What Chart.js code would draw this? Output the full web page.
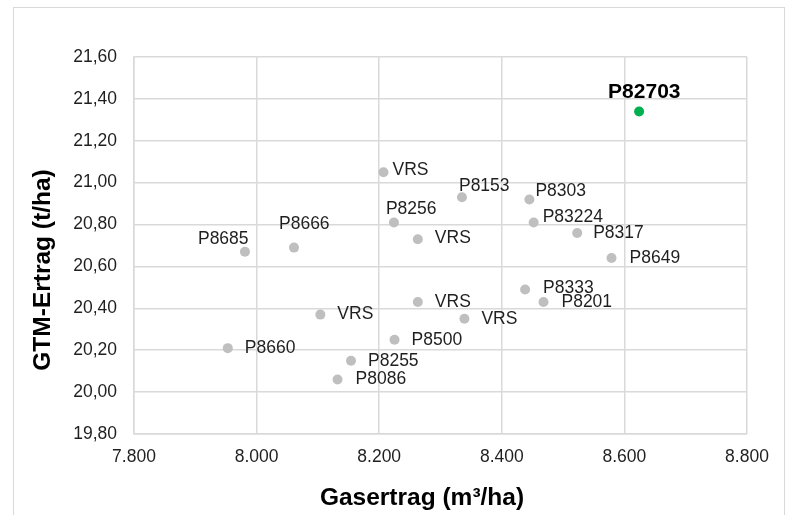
<!DOCTYPE html>
<html>
<head>
<meta charset="utf-8">
<script src="https://cdn.jsdelivr.net/npm/chart.js@4"></script>
<style>
  html, body { margin: 0; padding: 0; background: #fff; }
  #wrap { position: relative; width: 790px; height: 515px; overflow: hidden; }
  #frame { position: absolute; left: 13px; top: 7px; width: 772px; height: 530px; border: 1.5px solid #d9d9d9; box-sizing: border-box; }
  canvas { position: absolute; left: 0; top: 0; }
</style>
</head>
<body>
<div id="wrap">
  <div id="frame"></div>
  <canvas id="myChart" width="790" height="515"></canvas>
</div>
<script>
// Sorten / Stämme
const names = ["P82703", "VRS", "P8153", "P8303", "P8256", "P83224", "VRS", "P8317", "P8649", "P8685",
  "P8666", "P8333", "P8201", "VRS", "VRS", "VRS", "P8500", "P8660", "P8255", "P8086"];
// Gasertrag (m³/ha)
const gasertrag = [8624, 8207, 8335, 8445, 8224, 8452, 8263, 8523, 8579, 7981,
  8061, 8438, 8468, 8263, 8339, 8104, 8225, 7953, 8154, 8132];
// GTM-Ertrag (t/ha)
const gtmErtrag = [21.34, 21.05, 20.93, 20.92, 20.81, 20.81, 20.73, 20.76, 20.64, 20.67,
  20.69, 20.49, 20.43, 20.43, 20.35, 20.37, 20.25, 20.21, 20.15, 20.06];
const highlight = "P82703";

// where each label sits next to its point (text left / middle, px)
const labelShift = [[-31, -19], [9, -2], [-3, -11], [6, -8], [-8, -13], [9, -5], [17, -1], [16, 0], [18, 0], [-47, -13],
  [-15, -23], [18, -1], [18, 0], [17, 0], [17, 0], [17, 0], [17, 0], [17, 0], [17, 0], [18, 0]];

const FONT = "'Liberation Sans', Arial, sans-serif";

const points = gasertrag.map((x, i) => ({ x: x, y: gtmErtrag[i] }));
const colors = names.map(n => n === highlight ? "#00b050" : "#bfbfbf");

const labelPlugin = {
  id: "pointLabels",
  afterDatasetsDraw(chart) {
    const ctx = chart.ctx;
    const meta = chart.getDatasetMeta(0);
    ctx.save();
    ctx.textAlign = "left";
    ctx.textBaseline = "middle";
    meta.data.forEach((el, i) => {
      const bold = names[i] === highlight;
      ctx.font = bold ? "bold 21px " + FONT : "17.5px " + FONT;
      ctx.fillStyle = bold ? "#000" : "#1f1f1f";
      ctx.fillText(names[i], el.x + labelShift[i][0], el.y + labelShift[i][1]);
    });
    ctx.restore();
  }
};

const titlePlugin = {
  id: "axisTitles",
  afterDraw(chart) {
    const ctx = chart.ctx;
    ctx.save();
    ctx.font = "bold 24.5px " + FONT;
    ctx.fillStyle = "#000";
    ctx.textAlign = "center";
    ctx.textBaseline = "middle";
    ctx.fillText("Gasertrag (m³/ha)", 422, 498);
    ctx.translate(43, 270);
    ctx.rotate(-Math.PI / 2);
    ctx.fillText("GTM-Ertrag (t/ha)", 0, 0);
    ctx.restore();
  }
};

initChart();

function initChart() {
  const ctx = document.getElementById("myChart").getContext("2d");
  window.chart = new Chart(ctx, {
    type: "scatter",
    data: {
      datasets: [
        {
          label: "Sorten",
          data: points,
          backgroundColor: colors,
          borderColor: colors,
          pointRadius: 5,
          pointHoverRadius: 5,
          borderWidth: 0,
        },
      ],
    },
    plugins: [labelPlugin, titlePlugin],
    options: {
      responsive: false,
      animation: false,
      layout: { padding: { top: 57, right: 43, left: 0, bottom: 0 } },
      plugins: { legend: { display: false }, tooltip: { enabled: false } },
      scales: {
        x: {
          type: "linear",
          min: 7800,
          max: 8800,
          afterFit: (s) => { s.height = 81; },
          grid: { color: "#d9d9d9", lineWidth: 1.5, drawTicks: false },
          border: { color: "#d9d9d9", width: 1.5 },
          ticks: {
            stepSize: 200,
            padding: 13,
            color: "#1f1f1f",
            font: { family: FONT, size: 17.5 },
            callback: (v) => v.toLocaleString("de-DE"),
          },
        },
        y: {
          min: 19.8,
          max: 21.6,
          afterFit: (s) => { s.width = 134; },
          grid: { color: "#d9d9d9", lineWidth: 1.5, drawTicks: false },
          border: { color: "#d9d9d9", width: 1.5 },
          ticks: {
            stepSize: 0.2,
            padding: 17,
            color: "#1f1f1f",
            font: { family: FONT, size: 17.5 },
            callback: (v) => v.toFixed(2).replace(".", ","),
          },
        },
      },
    },
  });
}
</script>
</body>
</html>
